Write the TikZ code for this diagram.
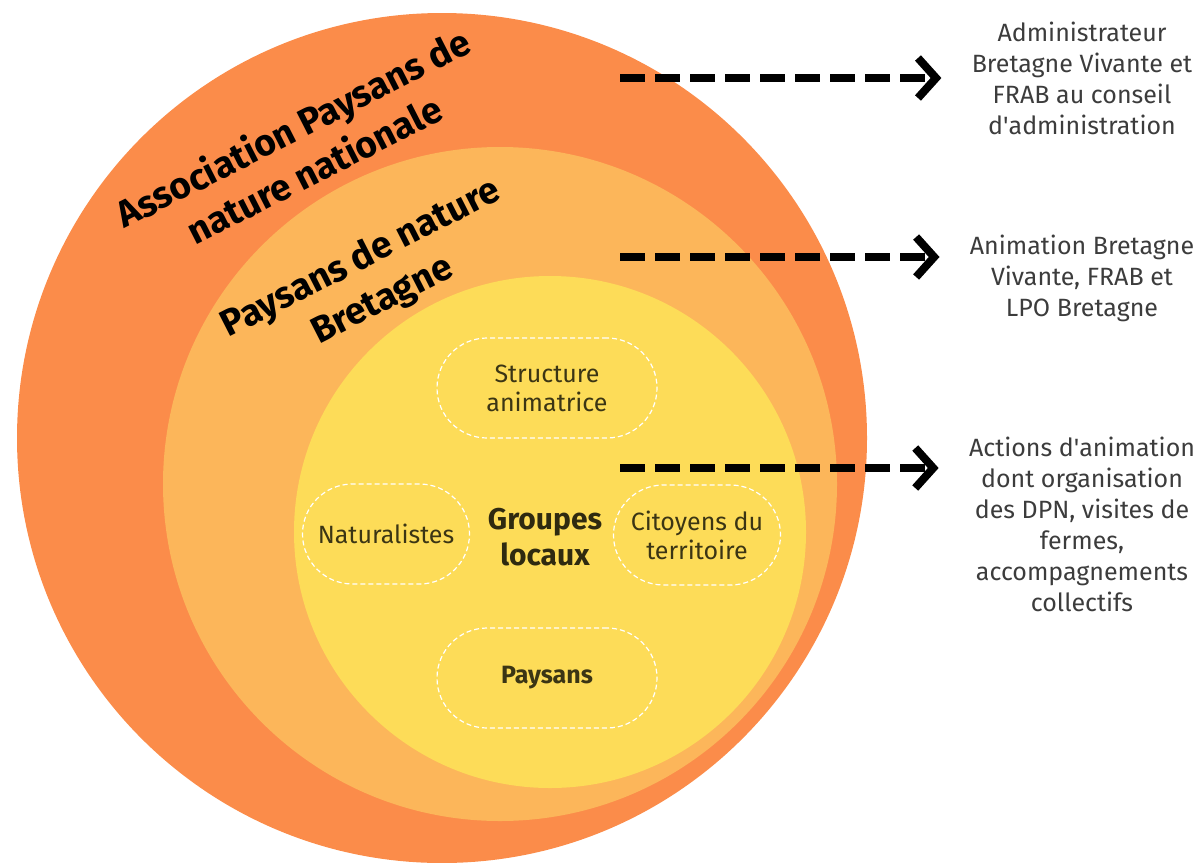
\documentclass[tikz,border=0pt]{standalone}
\usepackage{fontspec}
\setmainfont{Fira Sans}
\usepackage{tikz}
\usetikzlibrary{arrows.meta}
\definecolor{nationc}{HTML}{FB8C4A}
\definecolor{bretc}{HTML}{FCB65A}
\definecolor{localc}{HTML}{FDDC58}
\definecolor{notec}{HTML}{3C3C3C}
\definecolor{pillc}{HTML}{3B3514}

\begin{document}
\begin{tikzpicture}[x=0.5pt,y=-0.5pt]
            \tikzstyle{ring}=[circle,inner sep=0pt]
            \tikzstyle{ringlabel}=[rotate=27,align=center,font=\bfseries\fontsize{18.5}{23.5}\selectfont]
            \tikzstyle{pill}=[draw=white,dash pattern=on 2.5pt off 1.5pt,line width=0.6pt,rounded corners=25pt,minimum height=50pt,align=center,text=pillc,font=\fontsize{12.5}{14.5}\selectfont]
            \tikzstyle{note}=[anchor=north,inner sep=0pt,align=center,text=notec,font=\fontsize{12.5}{15.5}\selectfont]
            \tikzstyle{flow}=[line width=4pt,dash pattern=on 12.5pt off 5pt,-{Straight Barb[length=9pt,width=20pt]},shorten >=15pt]
            \useasboundingbox (0,0) rectangle (1203,862);
            \node[ring,fill=nationc,minimum size=425pt] (nation) at (442,438) {};
            \node[ring,fill=bretc,minimum size=337pt] (bret) at (500,484) {};
            \node[ring,fill=localc,minimum size=256pt] (local) at (550,532) {};
            \node[ringlabel] (nationlbl) at (303,148) {Association Paysans de\\nature nationale};
            \node[ringlabel] (bretlbl) at (372,280) {Paysans de nature\\Bretagne};
            \node[pill,minimum width=110pt] (struct) at (547,388) {Structure\\animatrice};
            \node[pill,minimum width=83.5pt] (natur) at (386,534) {Naturalistes};
            \node[pill,minimum width=83.5pt] (citoy) at (697,535) {Citoyens du\\territoire};
            \node[pill,minimum width=110pt,font=\bfseries\fontsize{12.5}{14.5}\selectfont] (paysans) at (547,678) {Paysans};
            \node[align=center,text=pillc!80!black,font=\bfseries\fontsize{15}{18}\selectfont] (groupes) at (545,537) {Groupes\\locaux};
            \node[note] (admin) at (1082,22) {Administrateur\\Bretagne Vivante et\\FRAB au conseil\\d\textquotesingle administration};
            \node[note] (anim) at (1082,235) {Animation Bretagne\\Vivante, FRAB et\\LPO Bretagne};
            \node[note] (actions) at (1082,437) {Actions d\textquotesingle animation\\dont organisation\\des DPN, visites de\\fermes,\\accompagnements\\collectifs};
            \coordinate (s1) at (620,78);
            \coordinate (s2) at (620,257);
            \coordinate (s3) at (620,468);
            \draw[flow] (s1) -- (s1 -| admin.west);
            \draw[flow] (s2) -- (s2 -| anim.west);
            \draw[flow] (s3) -- (s3 -| actions.west);
        \end{tikzpicture}
\end{document}
